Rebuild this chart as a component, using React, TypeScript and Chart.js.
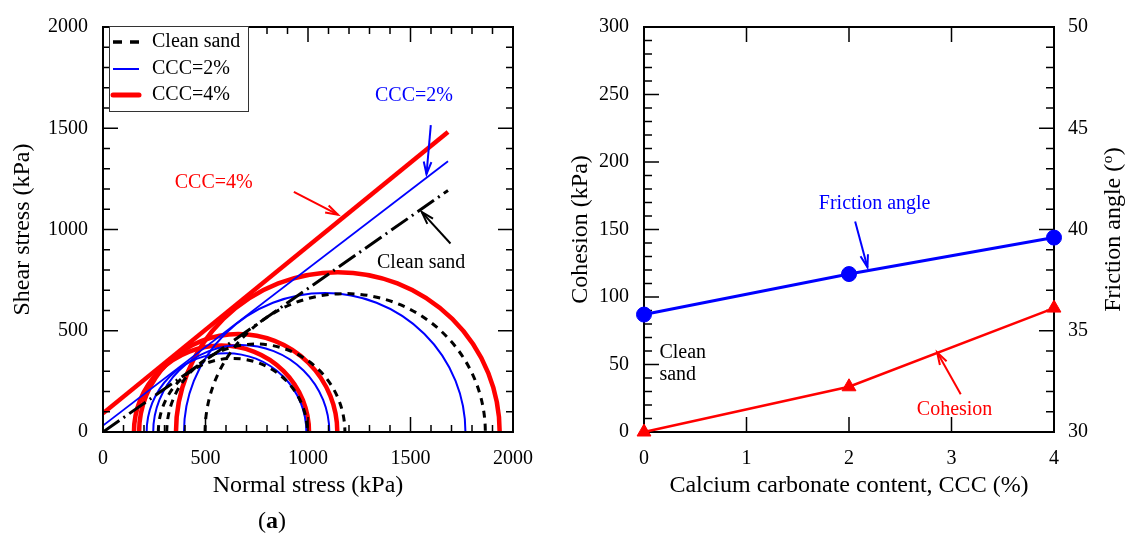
import React, { useEffect, useRef } from "react";
import { Chart, registerables } from "chart.js";
Chart.register(...registerables);

// ---------- Panel (a): Mohr circles & failure envelopes ----------
const seriesLabels = ["Clean sand", "CCC=2%", "CCC=4%"];
const envelopeSigma = [0, 1683];
const envelopeClean = [0, 1193];
const envelopeCCC2 = [32, 1337];
const envelopeCCC4 = [92, 1482];

const cleanSigma3 = [270, 311, 498];
const cleanSigma1 = [997, 1180, 1865];
const ccc2Sigma3 = [213, 245, 395];
const ccc2Sigma1 = [992, 1104, 1768];
const ccc4Sigma3 = [151, 176, 356];
const ccc4Sigma1 = [1005, 1143, 1935];

const stressMin = 0;
const stressMax = 2000;
const stressStep = 500;

// ---------- Panel (b): cohesion & friction angle ----------
const cccValues = [0, 2, 4];
const cohesionValues = [0, 33.5, 91.8];
const frictionValues = [35.8, 37.8, 39.6];
const cohesionRange = [0, 300];
const frictionRange = [30, 50];

const SERIF = "'Liberation Serif', 'Times New Roman', serif";
const BLUE = "#0000ff";
const RED = "#ff0000";

type Ticks = { min: number; max: number; minor: number; major: number };

function drawFrameTicks(chart: any, xs: Ticks, yl: Ticks, yr: Ticks, xKey: string, ylKey: string, yrKey: string, majorLen: number, minorLen: number) {
  const { ctx, chartArea } = chart;
  const { left, right, top, bottom } = chartArea;
  const sx = chart.scales[xKey];
  const sl = chart.scales[ylKey];
  const sr = chart.scales[yrKey];
  ctx.save();
  ctx.strokeStyle = "#000";
  ctx.lineWidth = 1.5;
  ctx.setLineDash([]);
  const isMajor = (v: number, t: Ticks) => Math.abs(((v - t.min) / t.major) - Math.round((v - t.min) / t.major)) < 1e-6;
  for (let v = xs.min; v <= xs.max + 1e-9; v += xs.minor) {
    const p = sx.getPixelForValue(v);
    const L = isMajor(v, xs) ? majorLen : minorLen;
    ctx.beginPath();
    ctx.moveTo(p, bottom);
    ctx.lineTo(p, bottom - L);
    ctx.moveTo(p, top);
    ctx.lineTo(p, top + L);
    ctx.stroke();
  }
  for (let v = yl.min; v <= yl.max + 1e-9; v += yl.minor) {
    const p = sl.getPixelForValue(v);
    const L = isMajor(v, yl) ? majorLen : minorLen;
    ctx.beginPath();
    ctx.moveTo(left, p);
    ctx.lineTo(left + L, p);
    ctx.stroke();
  }
  for (let v = yr.min; v <= yr.max + 1e-9; v += yr.minor) {
    const p = sr.getPixelForValue(v);
    const L = isMajor(v, yr) ? majorLen : minorLen;
    ctx.beginPath();
    ctx.moveTo(right, p);
    ctx.lineTo(right - L, p);
    ctx.stroke();
  }
  ctx.lineWidth = 2;
  ctx.strokeRect(left, top, right - left, bottom - top);
  ctx.restore();
}

function drawArrow(ctx: CanvasRenderingContext2D, x1: number, y1: number, x2: number, y2: number, color: string) {
  ctx.save();
  ctx.strokeStyle = color;
  ctx.lineWidth = 2;
  ctx.setLineDash([]);
  ctx.beginPath();
  ctx.moveTo(x1, y1);
  ctx.lineTo(x2, y2);
  ctx.stroke();
  const a = Math.atan2(y2 - y1, x2 - x1);
  const h = 13;
  ctx.beginPath();
  ctx.moveTo(x2 - h * Math.cos(a - 0.3), y2 - h * Math.sin(a - 0.3));
  ctx.lineTo(x2, y2);
  ctx.lineTo(x2 - h * Math.cos(a + 0.3), y2 - h * Math.sin(a + 0.3));
  ctx.stroke();
  ctx.restore();
}

function drawText(ctx: CanvasRenderingContext2D, text: string, x: number, y: number, color: string, align: CanvasTextAlign = "center", size = 20) {
  ctx.save();
  ctx.font = `${size}px ${SERIF}`;
  ctx.fillStyle = color;
  ctx.textAlign = align;
  ctx.textBaseline = "middle";
  ctx.fillText(text, x, y);
  ctx.restore();
}

function drawPanelLabel(ctx: CanvasRenderingContext2D, letter: string, cx: number, cy: number) {
  ctx.save();
  ctx.textBaseline = "middle";
  ctx.fillStyle = "#000";
  const reg = `24px ${SERIF}`;
  const bold = `bold 24px ${SERIF}`;
  ctx.font = reg;
  const wp = ctx.measureText("(").width;
  const wq = ctx.measureText(")").width;
  ctx.font = bold;
  const wl = ctx.measureText(letter).width;
  let x = cx - (wp + wl + wq) / 2;
  ctx.textAlign = "left";
  ctx.font = reg;
  ctx.fillText("(", x, cy);
  x += wp;
  ctx.font = bold;
  ctx.fillText(letter, x, cy);
  x += wl;
  ctx.font = reg;
  ctx.fillText(")", x, cy);
  ctx.restore();
}

function drawMohr(chart: any, s3: number[], s1: number[], color: string, width: number, dash: number[]) {
  const { ctx } = chart;
  const sx = chart.scales.x;
  const sy = chart.scales.y;
  ctx.save();
  ctx.strokeStyle = color;
  ctx.lineWidth = width;
  ctx.setLineDash(dash);
  for (let i = 0; i < s3.length; i++) {
    const c = (s3[i] + s1[i]) / 2;
    const r = (s1[i] - s3[i]) / 2;
    const cx = sx.getPixelForValue(c);
    const cy = sy.getPixelForValue(0);
    const rx = sx.getPixelForValue(c + r) - cx;
    const ry = cy - sy.getPixelForValue(r);
    ctx.beginPath();
    ctx.ellipse(cx, cy, rx, ry, 0, Math.PI, 2 * Math.PI);
    ctx.stroke();
  }
  ctx.restore();
}

const panelAPlugin = {
  id: "panelA",
  beforeDatasetsDraw(chart: any) {
    drawMohr(chart, ccc4Sigma3, ccc4Sigma1, RED, 4.5, []);
    drawMohr(chart, ccc2Sigma3, ccc2Sigma1, BLUE, 2, []);
    drawMohr(chart, cleanSigma3, cleanSigma1, "#000", 3, [7, 6]);
  },
  afterDatasetsDraw(chart: any) {
    const t: Ticks = { min: stressMin, max: stressMax, minor: 100, major: stressStep };
    drawFrameTicks(chart, t, t, t, "x", "y", "y", 15, 7);
  },
  afterDraw(chart: any) {
    const { ctx } = chart;
    const sx = chart.scales.x;
    const sy = chart.scales.y;
    const P = (x: number, y: number) => [sx.getPixelForValue(x), sy.getPixelForValue(y)];
    let [tx, ty] = P(1517, 1661);
    drawText(ctx, "CCC=2%", tx, ty, BLUE);
    let [a1, b1] = P(1599, 1515);
    let [a2, b2] = P(1578, 1273);
    drawArrow(ctx, a1, b1, a2, b2, BLUE);
    [tx, ty] = P(540, 1231);
    drawText(ctx, "CCC=4%", tx, ty, RED);
    [a1, b1] = P(931, 1186);
    [a2, b2] = P(1146, 1073);
    drawArrow(ctx, a1, b1, a2, b2, RED);
    [tx, ty] = P(1552, 835);
    drawText(ctx, "Clean sand", tx, ty, "#000");
    [a1, b1] = P(1695, 931);
    [a2, b2] = P(1555, 1086);
    drawArrow(ctx, a1, b1, a2, b2, "#000");

    // legend
    ctx.save();
    ctx.fillStyle = "#fff";
    ctx.fillRect(109, 26, 139, 85);
    ctx.strokeStyle = "#333";
    ctx.lineWidth = 1;
    ctx.strokeRect(109.5, 26.5, 139, 85);
    const rows = [42, 69, 95];
    const styles = [
      { c: "#000", w: 3.5, d: [9, 8] },
      { c: BLUE, w: 2, d: [] as number[] },
      { c: RED, w: 5, d: [] as number[] },
    ];
    for (let i = 0; i < 3; i++) {
      ctx.strokeStyle = styles[i].c;
      ctx.lineWidth = styles[i].w;
      ctx.setLineDash(styles[i].d);
      ctx.lineCap = i === 2 ? "round" : "butt";
      ctx.beginPath();
      ctx.moveTo(113, rows[i]);
      ctx.lineTo(139, rows[i]);
      ctx.stroke();
      drawText(ctx, seriesLabels[i], 152, rows[i], "#000", "left");
    }
    ctx.restore();
    drawPanelLabel(ctx, "a", 272, 522);
  },
};

const panelBPlugin = {
  id: "panelB",
  beforeDatasetsDraw(chart: any) {
    drawFrameTicks(
      chart,
      { min: 0, max: 4, minor: 1, major: 1 },
      { min: cohesionRange[0], max: cohesionRange[1], minor: 10, major: 50 },
      { min: frictionRange[0], max: frictionRange[1], minor: 1, major: 5 },
      "x", "y", "y1", 15, 8
    );
  },
  afterDraw(chart: any) {
    const { ctx } = chart;
    const sx = chart.scales.x;
    const sy = chart.scales.y;
    const P = (x: number, y: number) => [sx.getPixelForValue(x), sy.getPixelForValue(y)];
    let [tx, ty] = P(2.25, 169);
    drawText(ctx, "Friction angle", tx, ty, BLUE);
    let [a1, b1] = P(2.06, 156);
    let [a2, b2] = P(2.18, 122);
    drawArrow(ctx, a1, b1, a2, b2, BLUE);
    [tx, ty] = P(3.03, 16.5);
    drawText(ctx, "Cohesion", tx, ty, RED);
    [a1, b1] = P(3.09, 28);
    [a2, b2] = P(2.86, 59);
    drawArrow(ctx, a1, b1, a2, b2, RED);
    [tx, ty] = P(0.15, 59);
    drawText(ctx, "Clean", tx, ty, "#000", "left");
    [tx, ty] = P(0.15, 42.5);
    drawText(ctx, "sand", tx, ty, "#000", "left");

    const { top, bottom } = chart.chartArea;
    ctx.save();
    ctx.translate(554, (top + bottom) / 2);
    ctx.rotate(-Math.PI / 2);
    ctx.fillStyle = "#000";
    ctx.textBaseline = "middle";
    ctx.textAlign = "left";
    const main = `24px ${SERIF}`;
    const sup = `15px ${SERIF}`;
    ctx.font = main;
    const w1 = ctx.measureText("Friction angle (").width;
    const w3 = ctx.measureText(")").width;
    ctx.font = sup;
    const w2 = ctx.measureText("o").width + 1;
    let x = -(w1 + w2 + w3) / 2;
    ctx.font = main;
    ctx.fillText("Friction angle (", x, 0);
    x += w1;
    ctx.font = sup;
    ctx.fillText("o", x + 0.5, -6);
    x += w2;
    ctx.font = main;
    ctx.fillText(")", x, 0);
    ctx.restore();

    drawPanelLabel(ctx, "b", 842, 522);
  },
};

const tickFont = { family: SERIF, size: 20, lineHeight: 1.2 };
const titleFont = { family: SERIF, size: 24, lineHeight: 1.2 };
const plainTick = (v: any) => String(v);

export default function App() {
  const refA = useRef<HTMLCanvasElement>(null);
  const refB = useRef<HTMLCanvasElement>(null);

  useEffect(() => {
    const pts = (xs: number[], ys: number[]) => xs.map((x, i) => ({ x, y: ys[i] }));
    const chartA = new Chart(refA.current as HTMLCanvasElement, {
      type: "scatter",
      data: {
        datasets: [
          { label: seriesLabels[0], data: pts(envelopeSigma, envelopeClean), showLine: true, borderColor: "#000", borderWidth: 3, borderDash: [20, 5, 2, 5], pointRadius: 0 },
          { label: seriesLabels[1], data: pts(envelopeSigma, envelopeCCC2), showLine: true, borderColor: BLUE, borderWidth: 1.8, pointRadius: 0 },
          { label: seriesLabels[2], data: pts(envelopeSigma, envelopeCCC4), showLine: true, borderColor: RED, borderWidth: 4.5, pointRadius: 0 },
        ],
      },
      options: {
        animation: false,
        responsive: false,
        devicePixelRatio: 1,
        layout: { padding: { left: 0, top: 22, right: 47, bottom: 0 } },
        plugins: { legend: { display: false }, tooltip: { enabled: false } },
        scales: {
          x: {
            type: "linear",
            min: stressMin,
            max: stressMax,
            ticks: { stepSize: stressStep, font: tickFont, color: "#000", padding: 15, maxRotation: 0, callback: plainTick },
            grid: { display: false, drawTicks: false },
            border: { display: false },
            title: { display: true, text: "Normal stress (kPa)", font: titleFont, color: "#000", padding: { top: 0, bottom: 36 } },
            afterFit: (s: any) => { s.height = 104; },
          },
          y: {
            type: "linear",
            min: stressMin,
            max: stressMax,
            ticks: { stepSize: stressStep, font: tickFont, color: "#000", padding: 15, callback: plainTick },
            grid: { display: false, drawTicks: false },
            border: { display: false },
            title: { display: true, text: "Shear stress (kPa)", font: titleFont, color: "#000", padding: { top: 8, bottom: 0 } },
            afterFit: (s: any) => { s.width = 103; },
          },
        },
      } as any,
      plugins: [panelAPlugin],
    });

    const chartB = new Chart(refB.current as HTMLCanvasElement, {
      type: "scatter",
      data: {
        datasets: [
          {
            label: "Cohesion",
            data: pts(cccValues, cohesionValues),
            yAxisID: "y",
            showLine: true,
            borderColor: RED,
            borderWidth: 2.5,
            pointStyle: "triangle",
            pointRadius: 8,
            pointBackgroundColor: RED,
            pointBorderColor: RED,
            pointBorderWidth: 1,
            clip: false,
          },
          {
            label: "Friction angle",
            data: pts(cccValues, frictionValues),
            yAxisID: "y1",
            showLine: true,
            borderColor: BLUE,
            borderWidth: 3,
            pointStyle: "circle",
            pointRadius: 7.5,
            pointBackgroundColor: BLUE,
            pointBorderColor: BLUE,
            pointBorderWidth: 1,
            clip: false,
          },
        ],
      },
      options: {
        animation: false,
        responsive: false,
        devicePixelRatio: 1,
        layout: { padding: { left: 0, top: 22, right: 0, bottom: 0 } },
        plugins: { legend: { display: false }, tooltip: { enabled: false } },
        scales: {
          x: {
            type: "linear",
            min: 0,
            max: 4,
            ticks: { stepSize: 1, font: tickFont, color: "#000", padding: 15, maxRotation: 0, callback: plainTick },
            grid: { display: false, drawTicks: false },
            border: { display: false },
            title: { display: true, text: "Calcium carbonate content, CCC (%)", font: titleFont, color: "#000", padding: { top: 0, bottom: 36 } },
            afterFit: (s: any) => { s.height = 104; },
          },
          y: {
            type: "linear",
            position: "left",
            min: cohesionRange[0],
            max: cohesionRange[1],
            ticks: { stepSize: 50, font: tickFont, color: "#000", padding: 15, callback: plainTick },
            grid: { display: false, drawTicks: false },
            border: { display: false },
            title: { display: true, text: "Cohesion (kPa)", font: titleFont, color: "#000", padding: { top: 6, bottom: 0 } },
            afterFit: (s: any) => { s.width = 84; },
          },
          y1: {
            type: "linear",
            position: "right",
            min: frictionRange[0],
            max: frictionRange[1],
            ticks: { stepSize: 5, font: tickFont, color: "#000", padding: 14, callback: plainTick },
            grid: { display: false, drawTicks: false },
            border: { display: false },
            title: { display: false },
            afterFit: (s: any) => { s.width = 74; },
          },
        },
      } as any,
      plugins: [panelBPlugin],
    });

    return () => {
      chartA.destroy();
      chartB.destroy();
    };
  }, []);

  return (
    <div style={{ position: "absolute", left: 0, top: 0, width: 1128, height: 536, background: "#fff" }}>
      <canvas ref={refA} width={560} height={536} style={{ position: "absolute", left: 0, top: 0, width: 560, height: 536 }} />
      <canvas ref={refB} width={568} height={536} style={{ position: "absolute", left: 560, top: 0, width: 568, height: 536 }} />
    </div>
  );
}
